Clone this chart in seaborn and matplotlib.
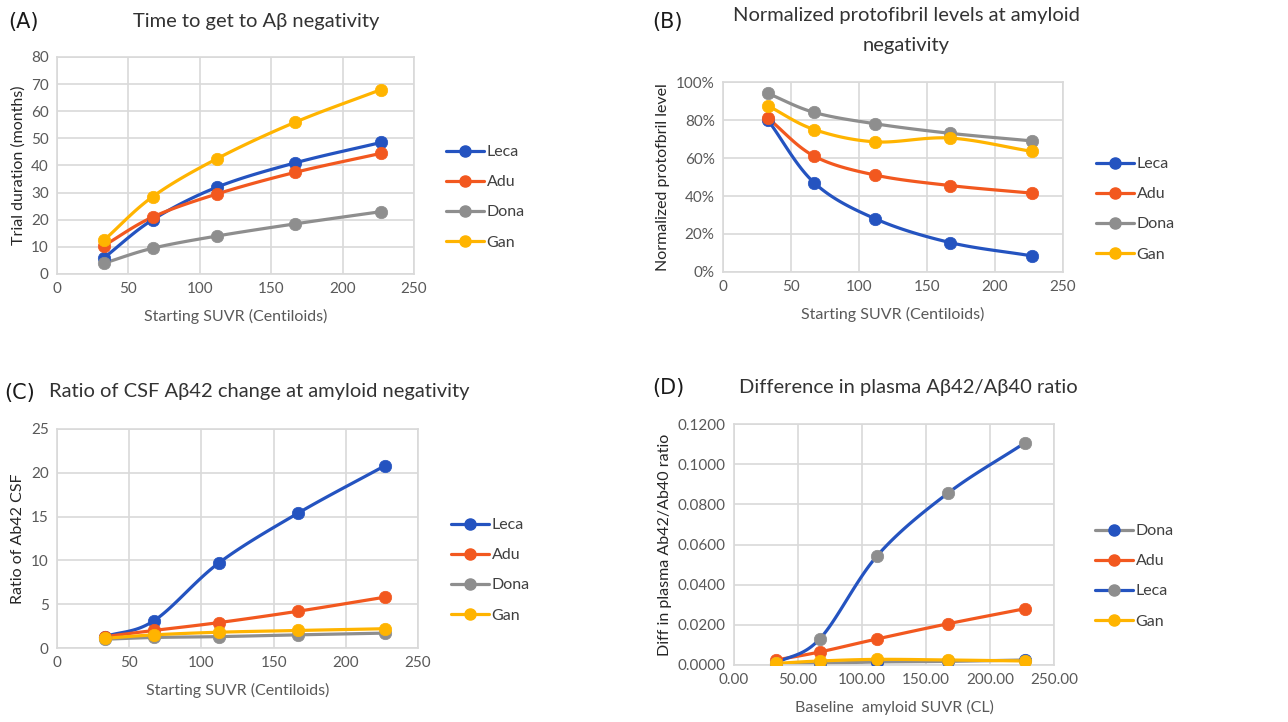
import numpy as np
import pandas as pd
import matplotlib
matplotlib.use("Agg")
import matplotlib.pyplot as plt
import seaborn as sns
from matplotlib.lines import Line2D
from matplotlib.ticker import FuncFormatter

# ---------------- data ----------------
suvr = [33, 67, 112, 167, 227]

a_leca = [6.0, 20.0, 32.0, 41.0, 48.5]
a_adu = [10.5, 21.0, 29.5, 37.5, 44.5]
a_dona = [4.0, 9.5, 14.0, 18.5, 23.0]
a_gan = [12.5, 28.5, 42.5, 56.0, 68.0]

b_leca = [0.80, 0.47, 0.28, 0.155, 0.085]
b_adu = [0.81, 0.61, 0.51, 0.455, 0.415]
b_dona = [0.94, 0.84, 0.78, 0.73, 0.69]
b_gan = [0.875, 0.75, 0.685, 0.705, 0.635]

c_leca = [1.3, 3.1, 9.7, 15.4, 20.8]
c_adu = [1.3, 2.0, 2.9, 4.2, 5.8]
c_dona = [1.0, 1.2, 1.3, 1.5, 1.7]
c_gan = [1.1, 1.5, 1.8, 2.0, 2.2]

d_dona = [0.0002, 0.0008, 0.0015, 0.0018, 0.0025]
d_adu = [0.0025, 0.0065, 0.0130, 0.0205, 0.0280]
d_leca = [0.0010, 0.0130, 0.0545, 0.0855, 0.1105]
d_gan = [0.0008, 0.0020, 0.0028, 0.0025, 0.0020]

BLUE = "#2453C0"
ORANGE = "#F2581F"
GREY = "#8E8E8E"
GOLD = "#FFB400"

sns.set_theme(style="white")
plt.rcParams['font.family'] = ['Lato', 'DejaVu Sans']


def smooth(xs, ys, n=30):
    """Catmull-Rom style smoothing similar to spreadsheet 'smoothed line'."""
    xs = np.asarray(xs, float)
    ys = np.asarray(ys, float)
    P = np.column_stack([xs, ys])
    P = np.vstack([P[0] - (P[1] - P[0]), P, P[-1] + (P[-1] - P[-2])])
    out = []
    for i in range(1, len(P) - 2):
        p0, p1, p2, p3 = P[i - 1], P[i], P[i + 1], P[i + 2]
        t = np.linspace(0, 1, n, endpoint=False)[:, None]
        c1 = p1 + (p2 - p0) / 6.0
        c2 = p2 - (p3 - p1) / 6.0
        seg = ((1 - t) ** 3) * p1 + 3 * ((1 - t) ** 2) * t * c1 + 3 * (1 - t) * t ** 2 * c2 + t ** 3 * p2
        out.append(seg)
    out.append(P[-2][None, :])
    arr = np.vstack(out)
    return arr[:, 0], arr[:, 1]


def draw_series(ax, xs, ys, line_color, marker_color):
    sx, sy = smooth(xs, ys)
    df = pd.DataFrame({"x": sx, "y": sy})
    sns.lineplot(data=df, x="x", y="y", ax=ax, color=line_color, lw=2.3,
                 sort=False, estimator=None, legend=False)
    dp = pd.DataFrame({"x": xs, "y": ys})
    sns.scatterplot(data=dp, x="x", y="y", ax=ax, color=marker_color, s=80,
                    edgecolor=marker_color, linewidth=0.5, zorder=5, legend=False)


def style_axes(ax, ylim, yticks, xticks, xlabel, ylabel, yfmt=None, xfmt=None):
    ax.set_xlim(0, 250)
    ax.set_ylim(*ylim)
    ax.set_xticks(xticks)
    ax.set_yticks(yticks)
    ax.grid(True, color="#D9D9D9", lw=1.2)
    for s in ax.spines.values():
        s.set_color("#D9D9D9")
        s.set_linewidth(1.2)
    ax.tick_params(axis="both", length=0, labelsize=11, colors="#595959", pad=6)
    if yfmt:
        ax.yaxis.set_major_formatter(FuncFormatter(yfmt))
    if xfmt:
        ax.xaxis.set_major_formatter(FuncFormatter(xfmt))
    ax.set_xlabel(xlabel, fontsize=11.5, color="#595959", labelpad=9)
    ax.set_ylabel(ylabel, fontsize=11.5, color="#262626", labelpad=4)


def add_legend(fig, names, line_colors, marker_colors, x, y):
    handles = [Line2D([0], [0], color=lc, lw=2.3, marker="o", markersize=8,
                      markerfacecolor=mc, markeredgecolor=mc)
               for lc, mc in zip(line_colors, marker_colors)]
    fig.legend(handles, names, loc="upper left", bbox_to_anchor=(x, y),
               frameon=False, fontsize=11.5, labelspacing=1.0, handlelength=2.4,
               handletextpad=0.15, labelcolor="#404040", borderaxespad=0, borderpad=0)


W, H = 1288, 722
fig = plt.figure(figsize=(W / 100, H / 100), dpi=100)


def make_ax(l, t, r, b):
    return fig.add_axes([l / W, 1 - b / H, (r - l) / W, (b - t) / H])


def ftext(x, y, s, **kw):
    fig.text(x / W, 1 - y / H, s, **kw)


axA = make_ax(57, 57, 414, 274)
axB = make_ax(723, 82, 1063, 272)
axC = make_ax(57, 429, 418, 648)
axD = make_ax(734, 424, 1054, 665)

xt = [0, 50, 100, 150, 200, 250]
TKW = dict(fontsize=14.5, color="#333333", ha="center", va="center")

# Panel A
for ys, c in [(a_leca, BLUE), (a_adu, ORANGE), (a_dona, GREY), (a_gan, GOLD)]:
    draw_series(axA, suvr, ys, c, c)
style_axes(axA, (0, 80), range(0, 81, 10), xt, "Starting SUVR (Centiloids)",
           "Trial duration (months)")
ftext(256, 22, "Time to get to A\u03b2 negativity", **TKW)

# Panel B
for ys, c in [(b_leca, BLUE), (b_adu, ORANGE), (b_dona, GREY), (b_gan, GOLD)]:
    draw_series(axB, suvr, ys, c, c)
style_axes(axB, (0, 1.0), np.arange(0, 1.01, 0.2), xt, "Starting SUVR (Centiloids)",
           "Normalized protofbril level", yfmt=lambda v, p: f"{v*100:.0f}%")
ftext(906, 15, "Normalized protofibril levels at amyloid", **TKW)
ftext(906, 45, "negativity", **TKW)

# Panel C
for ys, c in [(c_leca, BLUE), (c_adu, ORANGE), (c_dona, GREY), (c_gan, GOLD)]:
    draw_series(axC, suvr, ys, c, c)
style_axes(axC, (0, 25), range(0, 26, 5), xt, "Starting SUVR (Centiloids)",
           "Ratio of Ab42 CSF")
ftext(259, 392, "Ratio of CSF A\u03b242 change at amyloid negativity", **TKW)

# Panel D
draw_series(axD, suvr, d_dona, GREY, BLUE)
draw_series(axD, suvr, d_adu, ORANGE, ORANGE)
draw_series(axD, suvr, d_leca, BLUE, GREY)
draw_series(axD, suvr, d_gan, GOLD, GOLD)
style_axes(axD, (0, 0.12), np.arange(0, 0.1201, 0.02), xt, "Baseline  amyloid SUVR (CL)",
           "Diff in plasma Ab42/Ab40 ratio", yfmt=lambda v, p: f"{v:.4f}",
           xfmt=lambda v, p: f"{v:.2f}")
ftext(908, 387, "Difference in plasma A\u03b242/A\u03b240 ratio", **TKW)

# Legends
add_legend(fig, ["Leca", "Adu", "Dona", "Gan"], [BLUE, ORANGE, GREY, GOLD],
           [BLUE, ORANGE, GREY, GOLD], 446 / W, 1 - 145 / H)
add_legend(fig, ["Leca", "Adu", "Dona", "Gan"], [BLUE, ORANGE, GREY, GOLD],
           [BLUE, ORANGE, GREY, GOLD], 1096 / W, 1 - 157 / H)
add_legend(fig, ["Leca", "Adu", "Dona", "Gan"], [BLUE, ORANGE, GREY, GOLD],
           [BLUE, ORANGE, GREY, GOLD], 451 / W, 1 - 518 / H)
add_legend(fig, ["Dona", "Adu", "Leca", "Gan"], [GREY, ORANGE, BLUE, GOLD],
           [BLUE, ORANGE, GREY, GOLD], 1095 / W, 1 - 524 / H)

# Panel letters
for lbl, x, y in [("(A)", 8, 22), ("(B)", 652, 22), ("(C)", 4, 393), ("(D)", 652, 388)]:
    ftext(x, y, lbl, fontsize=15, color="#1a1a1a", va="center", family=["DejaVu Sans"])

fig.savefig("out.png", dpi=100)
